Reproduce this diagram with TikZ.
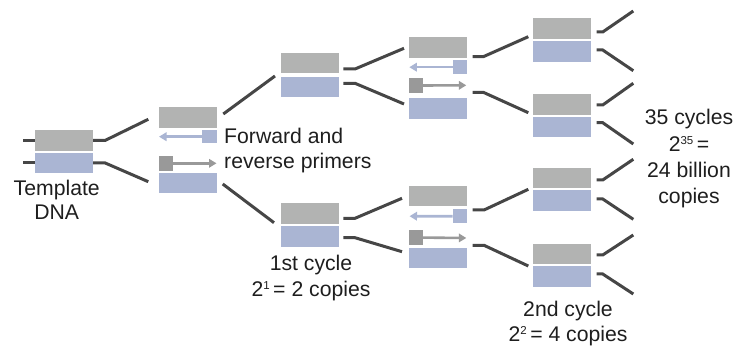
\documentclass[tikz,border=0pt]{standalone}
\usepackage{fontspec}
\setmainfont{Liberation Sans}
\usetikzlibrary{arrows.meta}
\definecolor{dnagray}{HTML}{B2B3B2}
\definecolor{dnablue}{HTML}{AAB5D3}
\definecolor{primgray}{HTML}{999999}
\definecolor{linkc}{HTML}{464646}
\definecolor{txt}{HTML}{1E1E1E}
% small raised exponent
\newcommand{\expo}[1]{\raisebox{0.62ex}{\fontsize{11.5}{12}\selectfont #1}}
\tikzset{
  strandG/.style={rectangle, fill=dnagray, inner sep=0pt, minimum width=58pt, minimum height=20.5pt},
  strandB/.style={rectangle, fill=dnablue, inner sep=0pt, minimum width=58pt, minimum height=20.5pt},
  primG/.style={rectangle, fill=primgray, inner sep=0pt, minimum width=13.7pt, minimum height=14.6pt},
  primB/.style={rectangle, fill=dnablue, inner sep=0pt, minimum width=14.2pt, minimum height=13.6pt},
  arrG/.style={draw=primgray, line width=2.6pt, -{Triangle[length=7.5pt,width=8.5pt]}},
  arrB/.style={draw=dnablue, line width=2.6pt, -{Triangle[length=7.5pt,width=8.5pt]}},
  link/.style={draw=linkc, line width=3pt},
  lbl/.style={font=\fontsize{21.2}{25}\selectfont, text=txt, inner sep=0pt, anchor=base}
}
\begin{document}
\begin{tikzpicture}[x=1pt, y=-1pt]
\useasboundingbox (0,0) rectangle (744,347);

% ---- template DNA ----
\node[strandG] (tg) at (64,140.4) {};
\node[strandB] (tb) at (64,163) {};
\draw[link] (tg.west) -- ++(-12,0);
\draw[link] (tb.west) -- ++(-12,0);
\coordinate (s1-in1) at (148.3,119.3);
\coordinate (s1-in2) at (148.3,181.7);
\draw[link] (tg.east) -- ++(12,0) -- (s1-in1);
\draw[link] (tb.east) -- ++(12,0) -- (s1-in2);
\node[lbl] (tpl1) at (56.7,196) {Template};
\node[lbl] (tpl2) at (56.7,220) {DNA};

% ---- strands separated, primers annealing ----
\node[strandG] (s1g) at (188,117.3) {};
\node[primB] (s1pb) at (209.5,136.7) {};
\coordinate (s1tb) at (159,136.7);
\draw[arrB] (s1pb.west) -- (s1tb);
\node[primG] (s1pg) at (165.9,163.3) {};
\coordinate (s1tg) at (216.5,163.3);
\draw[arrG] (s1pg.east) -- (s1tg);
\node[strandB] (s1b) at (188,183) {};
\node[lbl, anchor=base west] (fw1) at (224,143.3) {Forward and};
\node[lbl, anchor=base west] (fw2) at (224,169) {reverse primers};

\coordinate (s1-o1) at (223.3,114);
\coordinate (s1-o2) at (222.7,184);
\coordinate (a-in) at (275,76);
\coordinate (b-in) at (274,222.7);
\draw[link] (s1-o1) -- (a-in);
\draw[link] (s1-o2) -- (b-in);

% ---- first cycle: two copies ----
\node[strandG] (ag) at (310,63) {};
\node[strandB] (ab) at (310,87) {};
\node[strandG] (bg) at (310,213.3) {};
\node[strandB] (bb) at (310,236.4) {};
\node[lbl] (c1a) at (311,271) {1st cycle};
\node[lbl] (c1b) at (311,296) {2\expo{1}\,= 2 copies};

\coordinate (a-o1) at (343.3,69);
\coordinate (a-o2) at (343.3,83.3);
\coordinate (c1-in1) at (404,48.3);
\coordinate (c1-in2) at (404,104);
\draw[link] (a-o1) -- ++(11.7,0) -- (c1-in1);
\draw[link] (a-o2) -- ++(11.7,0) -- (c1-in2);
\coordinate (b-o1) at (343.3,218.3);
\coordinate (b-o2) at (343.3,237.7);
\coordinate (c2-in1) at (402,198.3);
\coordinate (c2-in2) at (402,251.7);
\draw[link] (b-o1) -- ++(11.7,0) -- (c2-in1);
\draw[link] (b-o2) -- ++(11.7,0) -- (c2-in2);

% ---- second round of primers ----
\node[strandG] (c1g) at (438,47.5) {};
\node[primB] (c1pb) at (460,67.2) {};
\coordinate (c1tb) at (409.3,67.2);
\draw[arrB] (c1pb.west) -- (c1tb);
\node[primG] (c1pg) at (415.9,85.5) {};
\coordinate (c1tg) at (466.3,85.3);
\draw[arrG] (c1pg.east) -- (c1tg);
\node[strandB] (c1b) at (438,108.3) {};

\node[strandG] (c2g) at (438,196) {};
\node[primB] (c2pb) at (460,216.3) {};
\coordinate (c2tb) at (409.5,216.2);
\draw[arrB] (c2pb.west) -- (c2tb);
\node[primG] (c2pg) at (415.9,237.6) {};
\coordinate (c2tg) at (466.3,238);
\draw[arrG] (c2pg.east) -- (c2tg);
\node[strandB] (c2b) at (438,258) {};

\coordinate (c1-o1) at (472.7,56.7);
\coordinate (c1-o2) at (472.7,92.3);
\coordinate (d1-in) at (528.3,36.7);
\coordinate (d2-in) at (528.3,112.7);
\draw[link] (c1-o1) -- ++(10.6,0) -- (d1-in);
\draw[link] (c1-o2) -- ++(10.6,0) -- (d2-in);
\coordinate (c2-o1) at (472.5,210);
\coordinate (c2-o2) at (472.5,245.3);
\coordinate (d3-in) at (528.3,189.3);
\coordinate (d4-in) at (528.3,266);
\draw[link] (c2-o1) -- ++(11.5,0) -- (d3-in);
\draw[link] (c2-o2) -- ++(11.5,0) -- (d4-in);

% ---- second cycle: four copies ----
\node[strandG] (d1g) at (561.7,28.3) {};
\node[strandB] (d1b) at (561.7,51.3) {};
\node[strandG] (d2g) at (561.7,104.3) {};
\node[strandB] (d2b) at (561.7,127) {};
\node[strandG] (d3g) at (561.7,178) {};
\node[strandB] (d3b) at (561.7,200.4) {};
\node[strandG] (d4g) at (561.7,253.8) {};
\node[strandB] (d4b) at (561.7,276.4) {};

% open ends leading on to further cycles
\foreach \n/\ya/\yb/\ea/\eb in {1/32/50/11/70.7, 2/105/122.7/83.3/144,
                                3/180/199/159.3/219.3, 4/255/274/235/294}{
  \coordinate (d\n-o1) at (596.7,\ya);
  \coordinate (d\n-o2) at (596.7,\yb);
  \coordinate (d\n-e1) at (633.3,\ea);
  \coordinate (d\n-e2) at (633.3,\eb);
  \draw[link] (d\n-o1) -- ++(6,0) -- (d\n-e1);
  \draw[link] (d\n-o2) -- ++(6,0) -- (d\n-e2);
}

\node[lbl] (c2a) at (568,316.7) {2nd cycle};
\node[lbl] (c2c) at (568,341.7) {2\expo{2}\,= 4 copies};

\node[lbl] (n1) at (689,125) {35 cycles};
\node[lbl] (n2) at (689,151.7) {2\expo{35}\,=};
\node[lbl] (n3) at (689,177.5) {24 billion};
\node[lbl] (n4) at (689,203.3) {copies};
\end{tikzpicture}
\end{document}
